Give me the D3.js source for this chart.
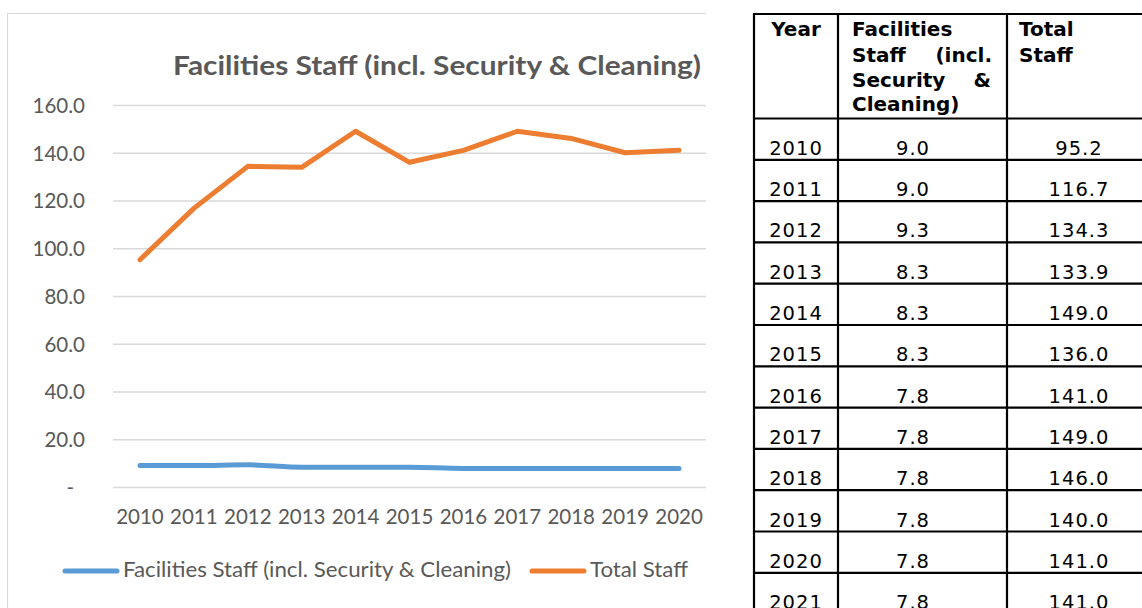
<!DOCTYPE html>
<html>
<head>
<meta charset="utf-8">
<script src="https://cdn.jsdelivr.net/npm/d3@7"></script>
<style>
  html, body { margin: 0; padding: 0; background: #fff; }
  svg { display: block; }
</style>
</head>
<body>
<svg id="chart" width="1142" height="608"></svg>
<script>
const years = ['2010', '2011', '2012', '2013', '2014', '2015', '2016', '2017', '2018', '2019', '2020'];
const facilitiesStaff = [9.0, 9.0, 9.3, 8.3, 8.3, 8.3, 7.8, 7.8, 7.8, 7.8, 7.8];
const totalStaff = [95.2, 116.7, 134.3, 133.9, 149.0, 136.0, 141.0, 149.0, 146.0, 140.0, 141.0];
const yTicks = [0, 20, 40, 60, 80, 100, 120, 140, 160];

const tableYears = ['2010', '2011', '2012', '2013', '2014', '2015', '2016', '2017', '2018', '2019', '2020', '2021'];
const tableFacilities = ['9.0', '9.0', '9.3', '8.3', '8.3', '8.3', '7.8', '7.8', '7.8', '7.8', '7.8', '7.8'];
const tableTotal = ['95.2', '116.7', '134.3', '133.9', '149.0', '136.0', '141.0', '149.0', '146.0', '140.0', '141.0', '141.0'];

const titleText = 'Facilities Staff (incl. Security & Cleaning)';
const seriesNames = ['Facilities Staff (incl. Security & Cleaning)', 'Total Staff'];

const BLUE = '#5B9BD5';
const ORANGE = '#ED7D31';
const TEXT = '#595959';
const GRID = '#D9D9D9';
const chartFont = 'Lato, "Open Sans", sans-serif';
const tableFont = '"DejaVu Sans", Verdana, sans-serif';

const svg = d3.select('#chart');

// chart frame (right/bottom edge fall outside the picture)
svg.append('path')
  .attr('d', 'M7.5,620V13.5H706')
  .attr('fill', 'none')
  .attr('stroke', GRID)
  .attr('stroke-width', 1.2);

const plot = { left: 113, right: 706, top: 105, bottom: 487 };

const xScale = d3.scaleBand().domain(years).range([plot.left, plot.right]);
const xPos = (d) => xScale(d) + xScale.bandwidth() / 2;
const yScale = d3.scaleLinear().domain([0, 160]).range([plot.bottom, plot.top]);

// title
svg.append('text')
  .attr('x', 437)
  .attr('y', 75)
  .attr('text-anchor', 'middle')
  .attr('textLength', 528)
  .attr('lengthAdjust', 'spacingAndGlyphs')
  .style('font-family', chartFont)
  .style('font-weight', 700)
  .style('font-size', '27px')
  .style('fill', TEXT)
  .text(titleText);

// y axis with gridlines
const yAxisG = svg.append('g')
  .attr('transform', `translate(${plot.left},0)`)
  .call(d3.axisLeft(yScale)
    .tickValues(yTicks)
    .tickSize(-(plot.right - plot.left))
    .tickPadding(28)
    .tickFormat((d) => (d === 0 ? '-' : d.toFixed(1))));

yAxisG.select('.domain').remove();
yAxisG.selectAll('.tick line')
  .attr('stroke', GRID)
  .attr('stroke-width', 1.5);
yAxisG.selectAll('.tick text')
  .style('font-family', chartFont)
  .style('font-size', '20.5px')
  .style('fill', TEXT)
  .attr('dy', '0.36em');
yAxisG.selectAll('.tick text')
  .filter((d) => d === 0)
  .attr('dx', -11);

// x axis
const xAxisG = svg.append('g')
  .attr('transform', `translate(0,${plot.bottom})`)
  .call(d3.axisBottom(xScale).tickSize(0).tickPadding(22));

xAxisG.select('.domain').remove();
xAxisG.selectAll('.tick text')
  .style('font-family', chartFont)
  .style('font-size', '20.5px')
  .style('fill', TEXT);

// lines
const blueLine = d3.line()
  .x((d, i) => xPos(years[i]))
  .y((d) => yScale(d))
  .curve(d3.curveMonotoneX);

const orangeLine = d3.line()
  .x((d, i) => xPos(years[i]))
  .y((d) => yScale(d));

svg.append('path')
  .datum(facilitiesStaff)
  .attr('d', blueLine)
  .attr('fill', 'none')
  .attr('stroke', BLUE)
  .attr('stroke-width', 5)
  .attr('stroke-linecap', 'round')
  .attr('stroke-linejoin', 'round');

svg.append('path')
  .datum(totalStaff)
  .attr('d', orangeLine)
  .attr('fill', 'none')
  .attr('stroke', ORANGE)
  .attr('stroke-width', 5)
  .attr('stroke-linecap', 'round')
  .attr('stroke-linejoin', 'round');

// legend
const legendItems = [
  { name: seriesNames[0], color: BLUE, x: 63, width: 388 },
  { name: seriesNames[1], color: ORANGE, x: 530, width: 98 }
];

const legend = svg.append('g').attr('transform', 'translate(0,571)');
const legendG = legend.selectAll('g')
  .data(legendItems)
  .enter()
  .append('g')
  .attr('transform', (d) => `translate(${d.x},0)`);

legendG.append('line')
  .attr('x1', 2)
  .attr('x2', 54)
  .attr('stroke', (d) => d.color)
  .attr('stroke-width', 5)
  .attr('stroke-linecap', 'round');

legendG.append('text')
  .attr('x', 60)
  .attr('y', 6)
  .attr('textLength', (d) => d.width)
  .attr('lengthAdjust', 'spacingAndGlyphs')
  .style('font-family', chartFont)
  .style('font-size', '20.5px')
  .style('fill', TEXT)
  .text((d) => d.name);

// table
const tbl = {
  left: 754,
  col1: 838,
  col2: 1007,
  right: 1172,
  top: 14,
  headBottom: 118.5,
  rowH: 41.3
};

const rowY = d3.scaleLinear().domain([0, 1]).range([tbl.headBottom, tbl.headBottom + tbl.rowH]);
const nRows = tableYears.length;
const tableG = svg.append('g');

const hRules = [tbl.top].concat(d3.range(nRows).map((i) => rowY(i)));
tableG.selectAll('line.h')
  .data(hRules)
  .enter()
  .append('line')
  .attr('class', 'h')
  .attr('x1', tbl.left - 1)
  .attr('x2', tbl.right)
  .attr('y1', (d) => d)
  .attr('y2', (d) => d)
  .attr('stroke', '#000')
  .attr('stroke-width', 2.2);

tableG.selectAll('line.v')
  .data([tbl.left, tbl.col1, tbl.col2, tbl.right])
  .enter()
  .append('line')
  .attr('class', 'v')
  .attr('x1', (d) => d)
  .attr('x2', (d) => d)
  .attr('y1', tbl.top - 1)
  .attr('y2', 620)
  .attr('stroke', '#000')
  .attr('stroke-width', 2.2);

// header
const headerWords = [
  { t: 'Year', x: 796, y: 36, anchor: 'middle' },
  { t: 'Facilities', x: 852, y: 36, anchor: 'start' },
  { t: 'Staff', x: 852, y: 61.5, anchor: 'start' },
  { t: '(incl.', x: 992, y: 61.5, anchor: 'end' },
  { t: 'Security', x: 852, y: 86.5, anchor: 'start' },
  { t: '&', x: 991, y: 86.5, anchor: 'end' },
  { t: 'Cleaning)', x: 852, y: 110.5, anchor: 'start' },
  { t: 'Total', x: 1019, y: 36, anchor: 'start' },
  { t: 'Staff', x: 1019, y: 61.5, anchor: 'start' }
];

tableG.selectAll('text.head')
  .data(headerWords)
  .enter()
  .append('text')
  .attr('class', 'head')
  .attr('x', (d) => d.x)
  .attr('y', (d) => d.y)
  .attr('text-anchor', (d) => d.anchor)
  .style('font-family', tableFont)
  .style('font-weight', 700)
  .style('font-size', '20px')
  .style('fill', '#000')
  .text((d) => d.t);

// body cells
const cells = [];
tableYears.forEach((yr, i) => {
  cells.push({ row: i, x: 796, t: yr });
  cells.push({ row: i, x: 913, t: tableFacilities[i] });
  cells.push({ row: i, x: 1079, t: tableTotal[i] });
});

tableG.selectAll('text.cell')
  .data(cells)
  .enter()
  .append('text')
  .attr('class', 'cell')
  .attr('x', (d) => d.x)
  .attr('y', (d) => rowY(d.row + 1) - 5)
  .attr('text-anchor', 'middle')
  .style('font-family', tableFont)
  .style('font-size', '19.5px')
  .style('letter-spacing', '1px')
  .style('fill', '#000')
  .text((d) => d.t);
</script>
</body>
</html>
